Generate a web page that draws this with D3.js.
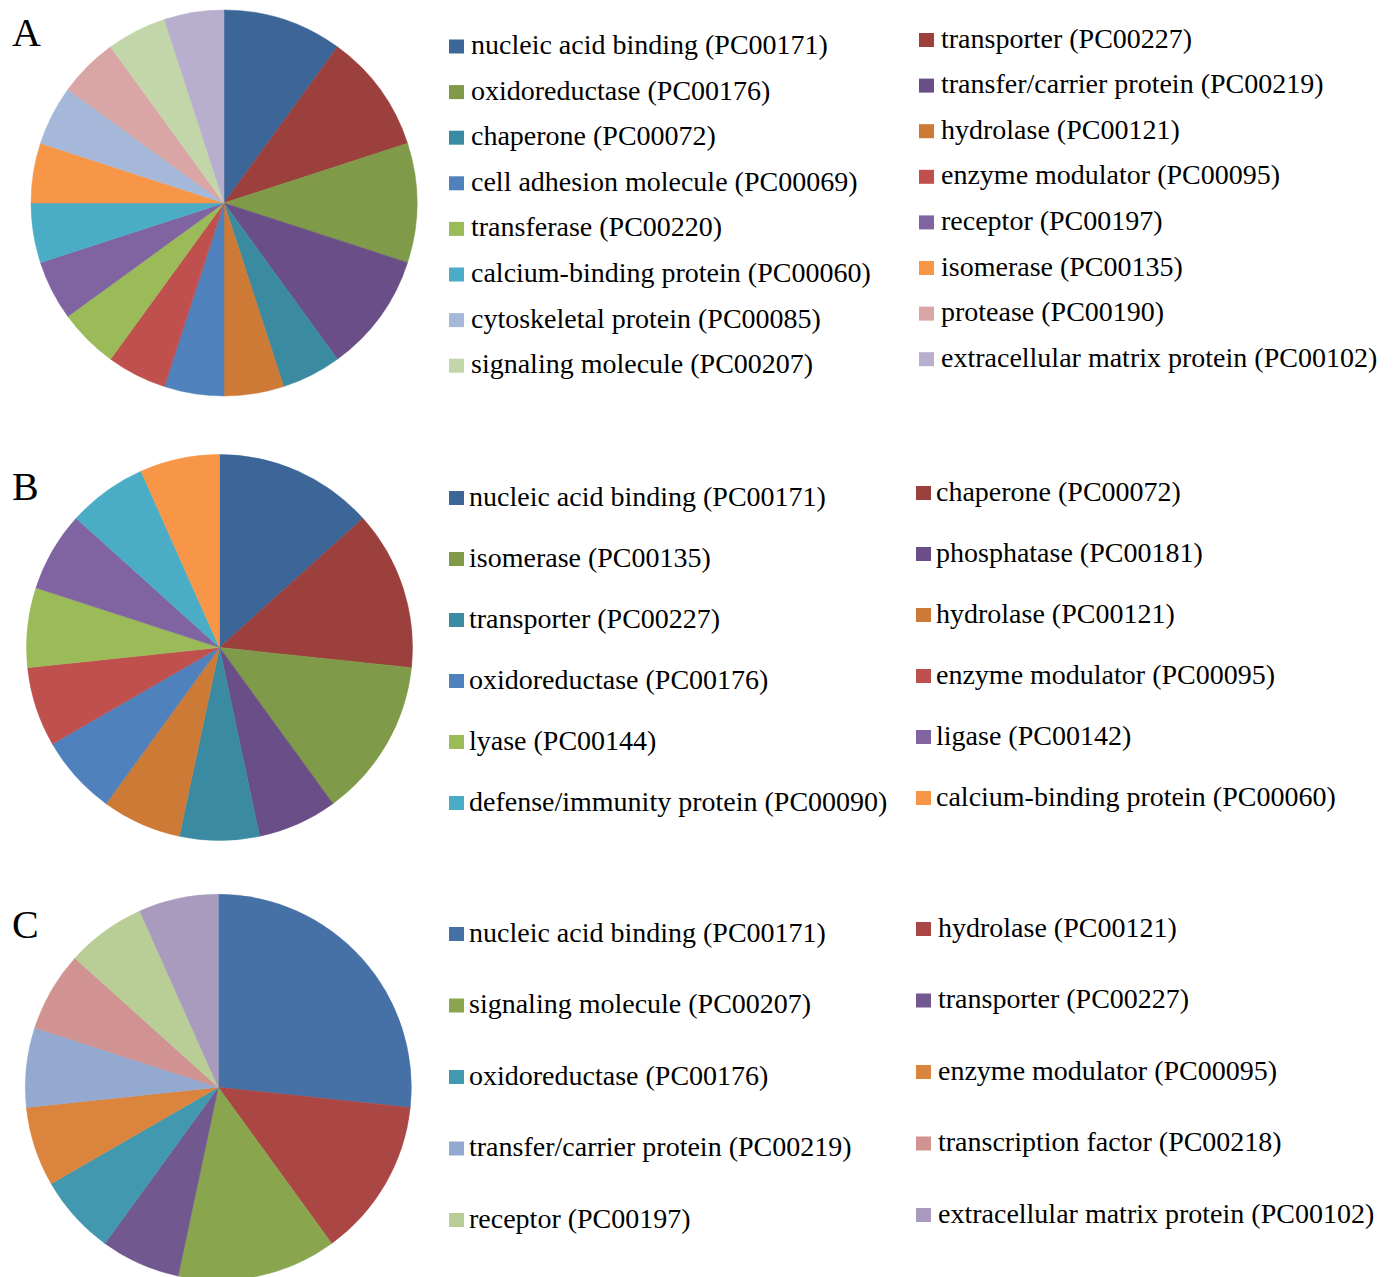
<!DOCTYPE html>
<html>
<head>
<meta charset="utf-8">
<script src="https://cdn.jsdelivr.net/npm/d3@7"></script>
<style>
  body { margin: 0; background: #fff; }
  text { font-family: "Liberation Serif", "Times New Roman", serif; fill: #000; }
</style>
</head>
<body>
<div id="chart"></div>
<script>
const width = 1393, height = 1277;

// panel A
const labelsA = ["nucleic acid binding (PC00171)", "transporter (PC00227)", "oxidoreductase (PC00176)",
  "transfer/carrier protein (PC00219)", "chaperone (PC00072)", "hydrolase (PC00121)",
  "cell adhesion molecule (PC00069)", "enzyme modulator (PC00095)", "transferase (PC00220)",
  "receptor (PC00197)", "calcium-binding protein (PC00060)", "isomerase (PC00135)",
  "cytoskeletal protein (PC00085)", "protease (PC00190)", "signaling molecule (PC00207)",
  "extracellular matrix protein (PC00102)"];
const valuesA = [2, 2, 2, 2, 1, 1, 1, 1, 1, 1, 1, 1, 1, 1, 1, 1];

// panel B
const labelsB = ["nucleic acid binding (PC00171)", "chaperone (PC00072)", "isomerase (PC00135)",
  "phosphatase (PC00181)", "transporter (PC00227)", "hydrolase (PC00121)",
  "oxidoreductase (PC00176)", "enzyme modulator (PC00095)", "lyase (PC00144)",
  "ligase (PC00142)", "defense/immunity protein (PC00090)", "calcium-binding protein (PC00060)"];
const valuesB = [2, 2, 2, 1, 1, 1, 1, 1, 1, 1, 1, 1];

// panel C
const labelsC = ["nucleic acid binding (PC00171)", "hydrolase (PC00121)", "signaling molecule (PC00207)",
  "transporter (PC00227)", "oxidoreductase (PC00176)", "enzyme modulator (PC00095)",
  "transfer/carrier protein (PC00219)", "transcription factor (PC00218)", "receptor (PC00197)",
  "extracellular matrix protein (PC00102)"];
const valuesC = [4, 2, 2, 1, 1, 1, 1, 1, 1, 1];

const colorsAB = ["#3c6698", "#9c403e", "#7f9a48", "#6a4e88", "#3a8ba1", "#cd7a36",
  "#4f81bd", "#c0504d", "#9bbb59", "#8064a2", "#4bacc6", "#f79646",
  "#a6b8d9", "#d9a6a5", "#c3d6a9", "#b8aecd"];
const colorsC = ["#4571a7", "#aa4644", "#89a54e", "#71588f", "#4298af", "#db843d",
  "#93a9d0", "#d09392", "#b9cd97", "#a99bbd"];

const panels = [
  {tag: "A", labels: labelsA, values: valuesA, colors: colorsAB, cx: 224, cy: 203, r: 193,
   tagY: 46, left: {mx: 449, tx: 471, top: 39.5}, right: {mx: 919, tx: 941, top: 33}, step: 45.6},
  {tag: "B", labels: labelsB, values: valuesB, colors: colorsAB, cx: 219.5, cy: 647.5, r: 193,
   tagY: 500, left: {mx: 449, tx: 469, top: 491}, right: {mx: 916, tx: 936, top: 486}, step: 61},
  {tag: "C", labels: labelsC, values: valuesC, colors: colorsC, cx: 218.3, cy: 1087.3, r: 193,
   tagY: 938, left: {mx: 449, tx: 469, top: 927}, right: {mx: 916, tx: 938, top: 922}, step: 71.5}
];

const svg = d3.select("#chart").append("svg")
  .attr("width", width).attr("height", height);

const pie = d3.pie().sort(null).value(d => d);

panels.forEach(p => {
  const color = d3.scaleOrdinal().domain(p.labels).range(p.colors);
  const arc = d3.arc().innerRadius(0).outerRadius(p.r);

  svg.append("g")
    .attr("transform", "translate(" + p.cx + "," + p.cy + ")")
    .selectAll("path")
    .data(pie(p.values))
    .join("path")
      .attr("d", arc)
      .attr("fill", (d, i) => color(p.labels[i]))
      .attr("stroke", (d, i) => color(p.labels[i]))
      .attr("stroke-width", 0.5);

  svg.append("text")
    .attr("x", 12).attr("y", p.tagY)
    .style("font-size", "40px")
    .text(p.tag);

  // legend: row-wise, two columns
  const items = svg.append("g").selectAll("g")
    .data(p.labels)
    .join("g")
      .attr("transform", (d, i) => {
        const col = i % 2 === 0 ? p.left : p.right;
        return "translate(0," + (col.top + Math.floor(i / 2) * p.step) + ")";
      });

  items.append("rect")
    .attr("x", (d, i) => (i % 2 === 0 ? p.left : p.right).mx)
    .attr("y", 0)
    .attr("width", 15).attr("height", 14)
    .attr("fill", d => color(d));

  items.append("text")
    .attr("x", (d, i) => (i % 2 === 0 ? p.left : p.right).tx)
    .attr("y", 14.5)
    .style("font-size", "28px")
    .text(d => d);
});
</script>
</body>
</html>
